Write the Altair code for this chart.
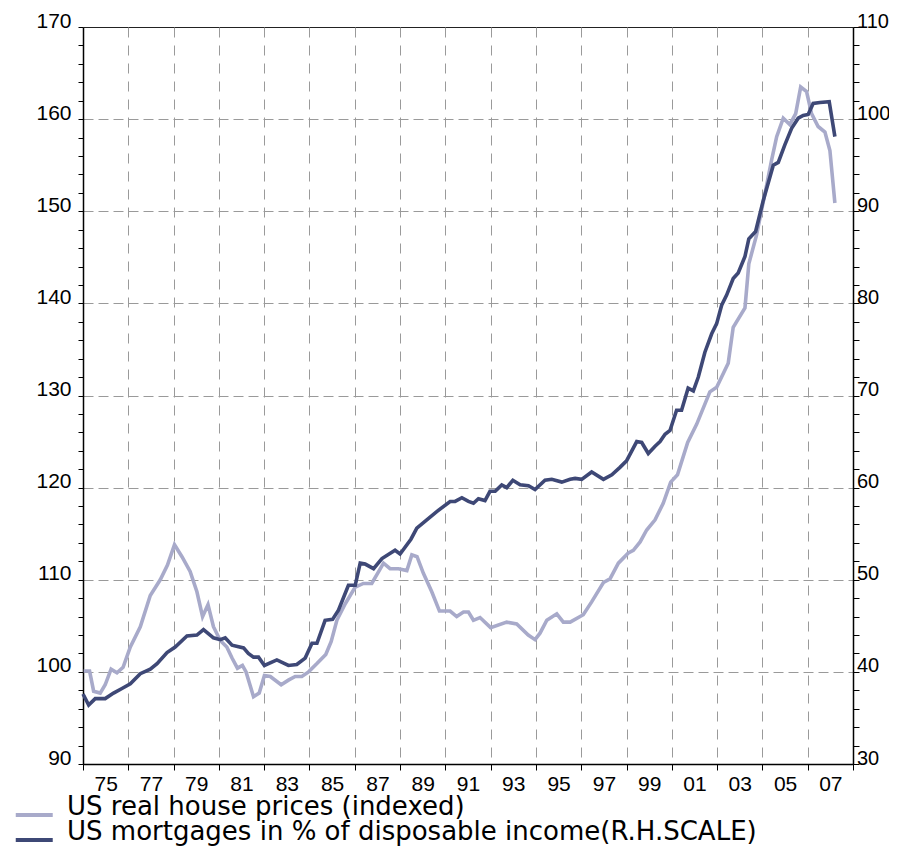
import altair as alt
import pandas as pd

# ---- data ----
house_year = [1974.03, 1974.29, 1974.47, 1974.76, 1974.98, 1975.24, 1975.50, 1975.77, 1976.09, 1976.53,
              1976.97, 1977.41, 1977.73, 1978.04, 1978.37, 1978.73, 1979.03, 1979.28, 1979.52, 1979.76,
              1980.06, 1980.35, 1980.58, 1980.82, 1981.04, 1981.20, 1981.53, 1981.78, 1982.01, 1982.27,
              1982.75, 1983.07, 1983.37, 1983.66, 1983.96, 1984.33, 1984.72, 1984.96, 1985.21, 1985.58,
              1986.02, 1986.38, 1986.75, 1987.27, 1987.56, 1987.93, 1988.30, 1988.52, 1988.75, 1989.03,
              1989.40, 1989.74, 1990.21, 1990.50, 1990.80, 1991.02, 1991.24, 1991.53, 1992.00, 1992.71,
              1993.15, 1993.66, 1993.96, 1994.18, 1994.48, 1994.92, 1995.21, 1995.51, 1996.09, 1996.46,
              1996.98, 1997.27, 1997.64, 1998.08, 1998.30, 1998.60, 1998.89, 1999.26, 1999.62, 1999.95,
              2000.25, 2000.70, 2001.10, 2001.68, 2001.98, 2002.49, 2002.71, 2003.23, 2003.40, 2003.74,
              2004.11, 2004.41, 2004.63, 2004.92, 2005.21, 2005.47, 2005.69, 2005.95, 2006.17, 2006.46,
              2006.76, 2006.98, 2007.20]
house_value = [100.1, 100.1, 97.9, 97.7, 98.6, 100.3, 99.9, 100.5, 102.7, 104.9,
               108.3, 110.0, 111.6, 113.8, 112.5, 110.9, 108.7, 106.0, 107.3, 104.9,
               103.4, 102.7, 101.5, 100.4, 100.7, 100.0, 97.3, 97.7, 99.6, 99.5,
               98.6, 99.1, 99.5, 99.5, 100.0, 100.9, 101.9, 103.3, 105.6, 107.4,
               109.2, 109.6, 109.6, 111.8, 111.2, 111.2, 111.0, 112.7, 112.5, 110.7,
               108.7, 106.6, 106.6, 106.0, 106.5, 106.5, 105.6, 105.9, 104.8, 105.4,
               105.2, 104.0, 103.5, 104.2, 105.6, 106.3, 105.4, 105.4, 106.2, 107.6,
               109.7, 110.1, 111.8, 112.9, 113.2, 114.1, 115.4, 116.5, 118.3, 120.6,
               121.4, 124.9, 126.9, 130.4, 130.9, 133.5, 137.4, 139.5, 144.3, 147.4,
               151.9, 155.6, 158.1, 160.1, 159.4, 160.6, 163.5, 163.0, 160.6, 159.2,
               158.6, 156.6, 150.9]

mort_year = [1974.00, 1974.25, 1974.54, 1974.98, 1975.35, 1975.72, 1976.09, 1976.53, 1976.97, 1977.27,
             1977.71, 1978.07, 1978.59, 1979.03, 1979.32, 1979.76, 1980.06, 1980.28, 1980.58, 1981.09,
             1981.30, 1981.53, 1981.75, 1982.01, 1982.56, 1983.07, 1983.44, 1983.81, 1984.11, 1984.33,
             1984.69, 1985.02, 1985.28, 1985.72, 1986.02, 1986.24, 1986.46, 1986.83, 1987.20, 1987.78,
             1988.00, 1988.48, 1988.74, 1989.18, 1989.62, 1990.21, 1990.43, 1990.73, 1991.02, 1991.24,
             1991.46, 1991.75, 1991.97, 1992.20, 1992.49, 1992.71, 1992.98, 1993.30, 1993.67, 1993.96,
             1994.40, 1994.70, 1995.14, 1995.51, 1995.73, 1996.02, 1996.46, 1996.98, 1997.35, 1997.71,
             1998.00, 1998.45, 1998.67, 1998.96, 1999.26, 1999.48, 1999.70, 1999.92, 2000.21, 2000.43,
             2000.72, 2000.95, 2001.17, 2001.46, 2001.76, 2001.98, 2002.20, 2002.42, 2002.71, 2002.93,
             2003.23, 2003.40, 2003.70, 2004.04, 2004.48, 2004.70, 2004.99, 2005.29, 2005.58, 2005.80,
             2006.02, 2006.24, 2006.54, 2006.95, 2007.20]
mort_value = [37.6, 36.4, 37.1, 37.1, 37.7, 38.2, 38.7, 39.8, 40.3, 40.9,
              42.1, 42.7, 43.9, 44.0, 44.6, 43.7, 43.5, 43.7, 42.9, 42.6,
              42.0, 41.6, 41.6, 40.7, 41.3, 40.7, 40.8, 41.5, 43.1, 43.1,
              45.6, 45.7, 46.7, 49.4, 49.4, 51.8, 51.7, 51.2, 52.3, 53.2,
              52.8, 54.4, 55.6, 56.5, 57.4, 58.5, 58.5, 58.9, 58.5, 58.3,
              58.8, 58.6, 59.6, 59.6, 60.3, 60.0, 60.8, 60.3, 60.2, 59.8,
              60.8, 60.9, 60.6, 60.9, 61.0, 60.9, 61.7, 60.9, 61.4, 62.2,
              62.9, 65.0, 64.9, 63.7, 64.5, 65.0, 65.8, 66.2, 68.4, 68.4,
              70.8, 70.5, 72.0, 74.7, 76.7, 77.8, 79.8, 80.9, 82.7, 83.3,
              85.1, 87.0, 87.8, 91.2, 95.0, 95.3, 97.2, 99.0, 100.1, 100.4,
              100.5, 101.7, 101.8, 101.9, 98.1]

HOUSE = "US real house prices (indexed)"
MORT = "US mortgages in % of disposable income(R.H.SCALE)"
series_names = [HOUSE, MORT]
series_colors = ["#A8AACA", "#3E4876"]

x_ticks = list(range(1974, 2009, 2))
left_ticks = list(range(90, 171, 2))
right_ticks = list(range(30, 111, 2))

df = pd.concat([
    pd.DataFrame({"year": house_year, "value": house_value, "series": HOUSE}),
    pd.DataFrame({"year": mort_year, "value": mort_value, "series": MORT}),
])

W, H = 770, 737
PX_PER_YEAR = W / 34.0
GRID = "#9a9a9a"
TICKFONT = "Liberation Sans"

xaxis = alt.Axis(
    values=x_ticks, title=None, grid=True, gridDash=[10, 8], gridColor=GRID, gridWidth=1,
    tickSize=6, tickColor="#000", domainColor="#000", domainWidth=1.5,
    labelExpr="datum.value >= 2008 ? '' : substring(toString(datum.value + 1), 2)",
    labelOffset=PX_PER_YEAR, labelFlush=False, labelOverlap=False,
    labelFont=TICKFONT, labelFontSize=21, labelColor="#000", labelPadding=3,
)

grid_cond = {"condition": {"test": "datum.value % 10 == 0 && datum.value > 90 && datum.value < 170",
                           "value": 1}, "value": 0}

yleft = alt.Axis(
    values=left_ticks, title=None, grid=True, gridDash=[10, 5], gridColor=GRID, gridWidth=1,
    gridOpacity=grid_cond, tickSize=5, tickColor="#000", domainColor="#000", domainWidth=1.5,
    labelExpr="datum.value % 10 == 0 ? datum.label : ''", labelFlush=False, labelOverlap=False,
    labelFont=TICKFONT, labelFontSize=21, labelColor="#000", labelPadding=7,
    labelBaseline="alphabetic",
)
yright = alt.Axis(
    values=right_ticks, title=None, grid=False, orient="right",
    tickSize=6, tickColor="#000", domainColor="#000", domainWidth=1.5,
    labelExpr="datum.value % 10 == 0 ? datum.label : ''", labelFlush=False, labelOverlap=False,
    labelFont=TICKFONT, labelFontSize=20, labelColor="#000", labelPadding=-2.5,
    labelBaseline="alphabetic",
)

legend = alt.Legend(
    title=None, orient="none", legendX=-71, legendY=775,
    symbolType="M-1,0H3", symbolSize=342, symbolStrokeWidth=4,
    labelFont="DejaVu Sans", labelFontSize=26, labelColor="#000",
    labelBaseline="alphabetic", labelOffset=29, rowPadding=-4, padding=0, labelLimit=0,
)

base = alt.Chart(df).encode(
    x=alt.X("year:Q", scale=alt.Scale(domain=[1974, 2008], nice=False, zero=False), axis=xaxis),
    color=alt.Color("series:N", scale=alt.Scale(domain=series_names, range=series_colors),
                    legend=legend),
)

house_line = base.transform_filter(alt.datum.series == HOUSE).mark_line(strokeWidth=3.6).encode(
    y=alt.Y("value:Q", scale=alt.Scale(domain=[90, 170], nice=False, zero=False), axis=yleft)
)
mort_line = base.transform_filter(alt.datum.series == MORT).mark_line(strokeWidth=3.6).encode(
    y=alt.Y("value:Q", scale=alt.Scale(domain=[30, 110], nice=False, zero=False), axis=yright)
)

chart = alt.layer(house_line, mort_line).resolve_scale(y="independent").properties(
    width=W, height=H,
    autosize=alt.AutoSizeParams(type="none"),
    padding={"left": 75, "top": 19, "right": 36, "bottom": 82},
).configure_view(stroke="#222", strokeWidth=1)

chart.save("out.html", embed_options={"renderer": "svg", "actions": False})
